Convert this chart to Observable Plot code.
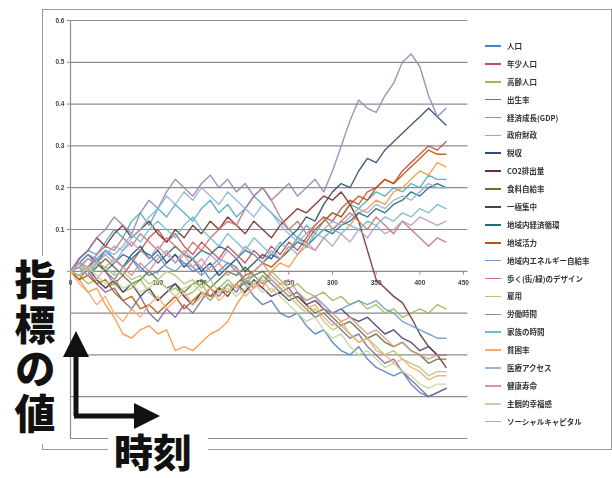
<!DOCTYPE html>
<html><head><meta charset="utf-8">
<script src="https://cdn.jsdelivr.net/npm/d3@7"></script>
<script src="https://cdn.jsdelivr.net/npm/@observablehq/plot@0.6"></script>
<style>
body{margin:0;width:612px;height:478px;position:relative;background:#fff;overflow:hidden;font-family:"Noto Sans CJK JP","Noto Sans",sans-serif}
#frame{position:absolute;left:42px;top:9px;width:568px;height:439px;border:1px solid #9a9a9a}
#chart{position:absolute;left:0;top:0;filter:blur(0.4px)}
#legend{position:absolute;left:485px;top:37px;font-size:7.5px;font-weight:700;color:#333;line-height:17.9px;filter:blur(0.3px)}
#legend .it{display:flex;align-items:center;height:17.9px;white-space:nowrap}
#legend .sw{width:16px;height:1.6px;margin-right:6px}
#ybox{position:absolute;left:8px;top:256px;width:58px;height:188px;background:#fff}
#ylab{position:absolute;left:13px;top:259px;writing-mode:vertical-rl;font-weight:900;font-size:41px;letter-spacing:3.5px;line-height:44px;color:#111;font-family:"Noto Sans CJK JP"}
#xbox{position:absolute;left:108px;top:434px;width:100px;height:44px;background:#fff}
#xlab{position:absolute;left:114px;top:425px;font-weight:900;font-size:39px;line-height:50px;color:#111;font-family:"Noto Sans CJK JP"}
#arrows{position:absolute;left:0;top:0}
</style></head>
<body>
<div id="frame"></div>
<div id="chart"></div>
<div id="legend"></div>
<div id="ybox"></div>
<div id="ylab">指標の値</div>
<div id="xbox"></div>
<div id="xlab">時刻</div>
<svg id="arrows" width="612" height="478">
<path d="M76,416 V352" stroke="#111" stroke-width="5" fill="none"/>
<path d="M63,357 L76,331 L89,357 Z" fill="#111"/>
<path d="M74,416 H138" stroke="#111" stroke-width="5" fill="none"/>
<path d="M134,403 L160,416 L134,429 Z" fill="#111"/>
</svg>
<script>
const names = ["人口","年少人口","高齢人口","出生率","経済成長(GDP)","政府財政","税収","CO2排出量","食料自給率","一極集中","地域内経済循環","地域活力","地域内エネルギー自給率","歩く(街/緑)のデザイン","雇用","労働時間","家族の時間","貧困率","医療アクセス","健康寿命","主観的幸福感","ソーシャルキャピタル"];
const colors = ["#4F81BD","#C0504D","#9BBB59","#8064A2","#4BACC6","#F79646","#2C4D75","#772C2A","#5F7530","#4D3B62","#276A7C","#B65708","#729ACA","#CD7371","#AFC97A","#9983B5","#6FBDD1","#F9AB6B","#95B3D7","#D99694","#C3D69B","#B3A2C7"];
const steps = [0,10,20,30,40,50,60,70,80,90,100,110,120,130,140,150,160,170,180,190,200,210,220,230,240,250,260,270,280,290,300,310,320,330,340,350,360,370,380,390,400,410,420,430];
const xTicks = [0,50,100,150,200,250,300,350,400,450];
const yTicks = [-0.4,-0.3,-0.2,-0.1,0,0.1,0.2,0.3,0.4,0.5,0.6];

const s01 = [0,0.01,-0.01,0.02,0,-0.02,0.01,0.03,0.01,-0.01,0,0.02,0.04,0.02,0,0.01,-0.02,0,0.02,0.01,-0.03,-0.06,-0.08,-0.07,-0.1,-0.11,-0.1,-0.13,-0.15,-0.14,-0.17,-0.19,-0.2,-0.18,-0.21,-0.23,-0.24,-0.25,-0.24,-0.27,-0.29,-0.3,-0.29,-0.28];
const s02 = [0,-0.02,0.01,0.03,0,-0.03,-0.01,0.02,0.05,0.08,0.1,0.07,0.09,0.06,0.04,0.07,0.05,0.03,0.06,0.04,0.02,0.05,0.03,0.06,0.04,0.07,0.05,0.08,0.11,0.13,0.12,0.15,0.17,0.16,0.19,0.2,0.22,0.21,0.24,0.26,0.28,0.3,0.29,0.31];
const s03 = [0,-0.01,-0.03,-0.02,-0.04,-0.03,-0.05,-0.04,-0.02,-0.05,-0.07,-0.05,-0.04,-0.06,-0.05,-0.03,-0.06,-0.04,-0.02,-0.04,-0.03,-0.01,-0.03,0,-0.02,-0.04,-0.03,-0.05,-0.06,-0.05,-0.07,-0.06,-0.08,-0.07,-0.09,-0.08,-0.1,-0.09,-0.11,-0.1,-0.09,-0.1,-0.08,-0.09];
const s04 = [0,0.02,0,-0.03,-0.05,-0.04,-0.07,-0.09,-0.06,-0.1,-0.12,-0.09,-0.11,-0.08,-0.1,-0.07,-0.04,-0.06,-0.03,-0.05,-0.02,-0.04,-0.01,-0.03,-0.05,-0.04,-0.07,-0.09,-0.11,-0.1,-0.12,-0.14,-0.16,-0.15,-0.18,-0.2,-0.22,-0.21,-0.24,-0.26,-0.28,-0.3,-0.29,-0.28];
const s05 = [0,0.03,0.05,0.04,0.07,0.1,0.08,0.12,0.14,0.11,0.15,0.13,0.16,0.14,0.12,0.15,0.17,0.14,0.16,0.13,0.15,0.18,0.16,0.14,0.12,0.1,0.08,0.11,0.09,0.12,0.14,0.13,0.16,0.15,0.17,0.19,0.18,0.2,0.19,0.21,0.2,0.23,0.22,0.22];
const s06 = [0,-0.02,-0.05,-0.04,-0.08,-0.11,-0.15,-0.16,-0.14,-0.13,-0.15,-0.14,-0.19,-0.18,-0.19,-0.17,-0.15,-0.14,-0.12,-0.08,-0.05,-0.03,-0.04,0,0.02,0.01,0.04,0.06,0.05,0.08,0.1,0.12,0.11,0.14,0.15,0.17,0.16,0.19,0.2,0.22,0.24,0.23,0.26,0.25];
const s07 = [0,0.02,0.04,0.02,0.05,0.03,0.01,0.04,0.06,0.03,0.05,0.02,0.04,0.01,0.03,0,0.02,-0.01,0.01,0.03,0,0.02,0.04,0.03,0.06,0.08,0.1,0.13,0.12,0.16,0.19,0.21,0.2,0.24,0.27,0.26,0.29,0.31,0.33,0.35,0.37,0.39,0.37,0.35];
const s08 = [0,0.03,0.05,0.08,0.06,0.09,0.11,0.08,0.1,0.12,0.09,0.07,0.1,0.08,0.11,0.09,0.12,0.1,0.13,0.11,0.09,0.12,0.1,0.08,0.11,0.13,0.15,0.14,0.16,0.18,0.17,0.19,0.16,0.12,0.05,-0.02,-0.04,-0.06,-0.075,-0.11,-0.15,-0.18,-0.2,-0.23];
const s09 = [0,0.01,-0.01,0.01,0.03,0.01,-0.01,-0.03,-0.02,0,-0.02,-0.04,-0.03,-0.05,-0.03,-0.02,-0.04,-0.02,0,-0.01,0.01,-0.01,0,-0.02,-0.04,-0.06,-0.05,-0.08,-0.1,-0.09,-0.11,-0.13,-0.12,-0.14,-0.16,-0.15,-0.17,-0.18,-0.17,-0.19,-0.2,-0.22,-0.21,-0.21];
const s10 = [0,-0.01,0.01,-0.02,-0.04,-0.02,-0.05,-0.03,-0.06,-0.04,-0.07,-0.05,-0.03,-0.06,-0.08,-0.05,-0.07,-0.04,-0.06,-0.03,-0.05,-0.02,-0.04,-0.06,-0.05,-0.07,-0.06,-0.08,-0.07,-0.09,-0.1,-0.09,-0.11,-0.12,-0.11,-0.13,-0.15,-0.14,-0.16,-0.17,-0.19,-0.18,-0.2,-0.2];
const s11 = [0,0.01,0.03,0.02,0,0.02,0.04,0.03,0.05,0.04,0.02,0.04,0.06,0.04,0.03,0.05,0.04,0.06,0.05,0.03,0.05,0.04,0.02,0.04,0.03,0.05,0.07,0.06,0.08,0.1,0.09,0.11,0.12,0.14,0.13,0.15,0.14,0.16,0.17,0.19,0.18,0.2,0.21,0.2];
const s12 = [0,-0.02,-0.01,-0.03,-0.02,-0.05,-0.07,-0.06,-0.09,-0.08,-0.1,-0.08,-0.06,-0.09,-0.07,-0.05,-0.06,-0.04,-0.05,-0.03,-0.01,0,0.02,0.01,0.03,0.05,0.08,0.07,0.1,0.12,0.14,0.13,0.16,0.18,0.17,0.2,0.22,0.21,0.23,0.25,0.27,0.29,0.28,0.28];
const s13 = [0,0.02,0.04,0.03,0.05,0.03,0.01,0.03,0,0.02,0.04,0.01,0,0.02,0.01,-0.01,0.01,0.03,0.02,0,-0.02,-0.01,-0.03,-0.02,-0.04,-0.06,-0.05,-0.07,-0.06,-0.08,-0.1,-0.09,-0.08,-0.07,-0.08,-0.07,-0.09,-0.1,-0.12,-0.13,-0.14,-0.15,-0.16,-0.16];
const s14 = [0,0.02,0.01,0.04,0.06,0.05,0.08,0.06,0.09,0.07,0.05,0.08,0.06,0.04,0.07,0.05,0.08,0.1,0.12,0.11,0.15,0.18,0.2,0.17,0.13,0.1,0.12,0.09,0.11,0.13,0.1,0.12,0.14,0.12,0.1,0.13,0.11,0.09,0.12,0.1,0.08,0.06,0.08,0.07];
const s15 = [0,0.01,0,0.02,0.01,-0.01,0,-0.02,-0.01,-0.03,-0.02,0,-0.01,-0.03,-0.02,-0.04,-0.02,-0.05,-0.03,-0.04,-0.02,-0.03,-0.01,-0.02,-0.04,-0.06,-0.08,-0.1,-0.09,-0.12,-0.14,-0.13,-0.15,-0.17,-0.16,-0.18,-0.2,-0.19,-0.21,-0.22,-0.23,-0.25,-0.24,-0.24];
const s16 = [0,0.03,0.05,0.08,0.1,0.13,0.11,0.09,0.14,0.17,0.15,0.19,0.22,0.2,0.18,0.21,0.23,0.2,0.22,0.19,0.21,0.18,0.2,0.17,0.19,0.21,0.18,0.2,0.22,0.19,0.24,0.3,0.36,0.41,0.39,0.38,0.42,0.45,0.5,0.52,0.49,0.42,0.37,0.39];
const s17 = [0,0.02,0,0.03,0.05,0.04,0.06,0.09,0.07,0.1,0.12,0.1,0.08,0.11,0.13,0.1,0.08,0.06,0.09,0.07,0.05,0.08,0.06,0.04,0.07,0.05,0.08,0.06,0.09,0.08,0.1,0.09,0.11,0.1,0.12,0.11,0.13,0.12,0.14,0.13,0.15,0.14,0.16,0.15];
const s18 = [0,-0.03,-0.05,-0.08,-0.06,-0.1,-0.12,-0.09,-0.11,-0.08,-0.06,-0.09,-0.07,-0.05,-0.08,-0.06,-0.04,-0.07,-0.05,-0.03,-0.06,-0.04,-0.02,-0.05,-0.03,-0.05,-0.07,-0.09,-0.08,-0.11,-0.13,-0.12,-0.15,-0.17,-0.16,-0.19,-0.2,-0.22,-0.21,-0.23,-0.24,-0.26,-0.25,-0.25];
const s19 = [0,0.01,-0.01,0.02,0.04,0.06,0.05,0.08,0.1,0.13,0.15,0.18,0.16,0.19,0.17,0.2,0.18,0.16,0.19,0.17,0.15,0.13,0.16,0.14,0.11,0.09,0.07,0.09,0.08,0.1,0.12,0.11,0.13,0.15,0.14,0.16,0.15,0.17,0.18,0.17,0.19,0.21,0.2,0.2];
const s20 = [0,0.02,0,-0.02,0.01,0.03,0.01,-0.01,0.02,0,0.03,0.05,0.02,0.04,0.01,0.03,0,0.02,-0.01,0.01,-0.02,0,0.02,-0.01,-0.03,-0.02,-0.05,-0.07,-0.06,-0.09,-0.1,-0.12,-0.11,-0.13,-0.15,-0.14,-0.16,-0.18,-0.17,-0.19,-0.2,-0.21,-0.2,-0.2];
const s21 = [0,-0.01,0.01,-0.01,-0.03,-0.02,-0.04,-0.03,-0.05,-0.04,-0.02,-0.04,-0.06,-0.04,-0.03,-0.05,-0.07,-0.05,-0.04,-0.06,-0.04,-0.03,-0.05,-0.04,-0.06,-0.08,-0.1,-0.12,-0.11,-0.14,-0.16,-0.15,-0.18,-0.2,-0.19,-0.21,-0.23,-0.22,-0.24,-0.25,-0.27,-0.28,-0.27,-0.27];
const s22 = [0,0.01,0.03,0.02,0.04,0.02,0.05,0.07,0.05,0.03,0.06,0.04,0.02,0.05,0.03,0.01,0.04,0.02,0.05,0.03,0.06,0.04,0.02,0.05,0.03,0.06,0.04,0.07,0.05,0.08,0.06,0.09,0.07,0.1,0.08,0.11,0.09,0.1,0.12,0.11,0.13,0.12,0.11,0.12];

const series = [s01,s02,s03,s04,s05,s06,s07,s08,s09,s10,s11,s12,s13,s14,s15,s16,s17,s18,s19,s20,s21,s22];
const rows = [];
series.forEach((vals, k) => vals.forEach((v, i) => rows.push({name: names[k], x: steps[i], y: v})));

const chart = Plot.plot({
  width: 612, height: 478,
  marginLeft: 70, marginRight: 149, marginTop: 20, marginBottom: 40,
  x: {domain: [0, 450], axis: null},
  y: {domain: [-0.4, 0.6], axis: null},
  color: {domain: names, range: colors},
  style: {background: "transparent", fontFamily: "Liberation Sans, Arial, sans-serif"},
  marks: [
    Plot.ruleY(yTicks, {stroke: "#8c8c8c", strokeWidth: 1.2, x1: 0, x2: 455}),
    Plot.ruleX([0], {stroke: "#8c8c8c", strokeWidth: 1.2}),
    Plot.axisY({ticks: yTicks.filter(d => d >= 0), tickSize: 3, tickPadding: 3, fontSize: 6.5, fontWeight: "bold", fill: "#444", stroke: "#8c8c8c", tickFormat: d => d === 0 ? "0" : d.toFixed(1), label: null}),
    Plot.ruleX(xTicks, {y1: 0, y2: -0.009, stroke: "#8c8c8c"}),
    Plot.text(xTicks, {x: d => d, y: 0, dy: 12, text: d => String(d), fontSize: 6.5, fontWeight: "bold", fill: "#444"}),
    Plot.line(rows, {x: "x", y: "y", z: "name", stroke: "name", strokeWidth: 1.4, strokeOpacity: 0.9})
  ]
});
document.getElementById("chart").appendChild(chart);

const lg = document.getElementById("legend");
names.forEach((n, k) => {
  const it = document.createElement("div"); it.className = "it";
  const sw = document.createElement("span"); sw.className = "sw"; sw.style.background = colors[k];
  const tx = document.createElement("span"); tx.textContent = n;
  it.appendChild(sw); it.appendChild(tx); lg.appendChild(it);
});
</script>
</body></html>
